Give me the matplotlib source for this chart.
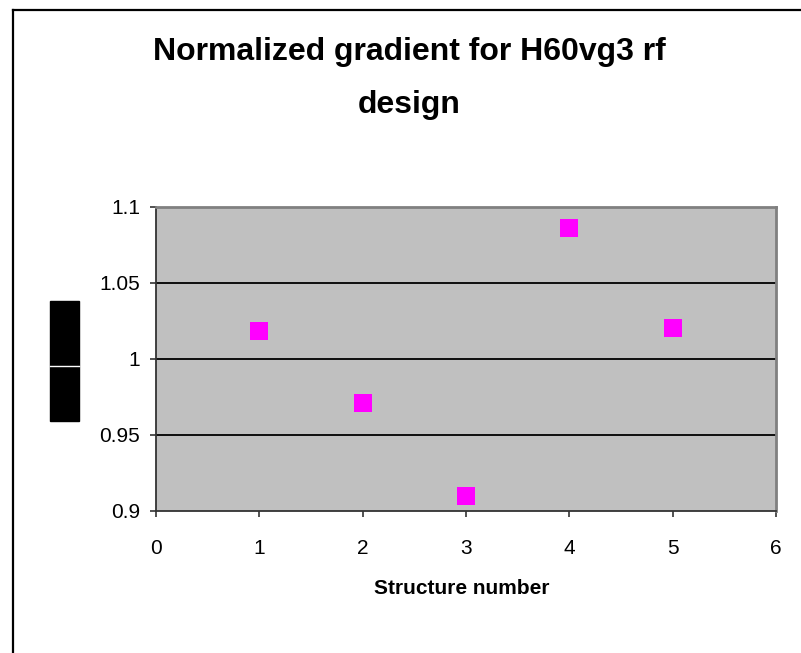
import numpy as np
import matplotlib
matplotlib.use('Agg')
import matplotlib.pyplot as plt
from matplotlib.patches import Rectangle
from matplotlib.lines import Line2D

plt.rcParams['font.family'] = ['Liberation Sans', 'DejaVu Sans']

structure = [1, 2, 3, 4, 5]
gradient = [1.0184, 0.9712, 0.9097, 1.0862, 1.0206]
xticks = [0, 1, 2, 3, 4, 5, 6]
yticks = [0.9, 0.95, 1.0, 1.05, 1.1]
ylabels = ['0.9', '0.95', '1', '1.05', '1.1']

W, H = 801, 653
fig = plt.figure(figsize=(W / 100, H / 100), dpi=100)

# outer chart frame (only top and left edges show)
fig.add_artist(Line2D([12.5 / W, 12.5 / W], [0, 1 - 9.5 / H], color='black', lw=1.6))
fig.add_artist(Line2D([12.5 / W, 1], [1 - 9.5 / H, 1 - 9.5 / H], color='black', lw=1.6))

ax = fig.add_axes([156 / W, 1 - 511 / H, (776 - 156) / W, (511 - 207) / H])
ax.set_facecolor('#c0c0c0')
ax.plot(structure, gradient, 's', color='#ff00ff', markersize=13, markeredgewidth=0, zorder=3)

ax.set_xlim(0, 6)
ax.set_ylim(0.9, 1.1)
ax.set_xticks(xticks)
ax.set_yticks(yticks)
ax.set_yticklabels(ylabels)
ax.tick_params(direction='out', length=4.3, width=1.2, color='#333333', labelsize=15)
ax.tick_params(axis='x', pad=16)
ax.tick_params(axis='y', pad=7.2)

for y in [0.95, 1.0, 1.05]:
    ax.axhline(y, color='black', lw=1.3, zorder=1)

for s in ['top', 'right']:
    ax.spines[s].set_color('#808080')
    ax.spines[s].set_linewidth(2)
for s in ['left', 'bottom']:
    ax.spines[s].set_color('#333333')
    ax.spines[s].set_linewidth(1.3)

ax.set_xlabel('Structure number', fontsize=15, fontweight='bold')
ax.xaxis.set_label_coords((461.5 - 156) / 620, (511 - 579) / 304)

fig.text(409 / W, 1 - 78.5 / H, 'Normalized gradient for H60vg3 rf\ndesign',
         ha='center', va='center', fontsize=23, fontweight='bold', linespacing=2.03)

# garbled y-axis title rendered as a black block
fig.add_artist(Rectangle((50 / W, 1 - 421 / H), 29 / W, 120 / H, color='black'))
fig.add_artist(Line2D([50 / W, 79 / W], [1 - 366 / H, 1 - 366 / H], color='white', lw=1))

fig.savefig('out.png', dpi=100)
